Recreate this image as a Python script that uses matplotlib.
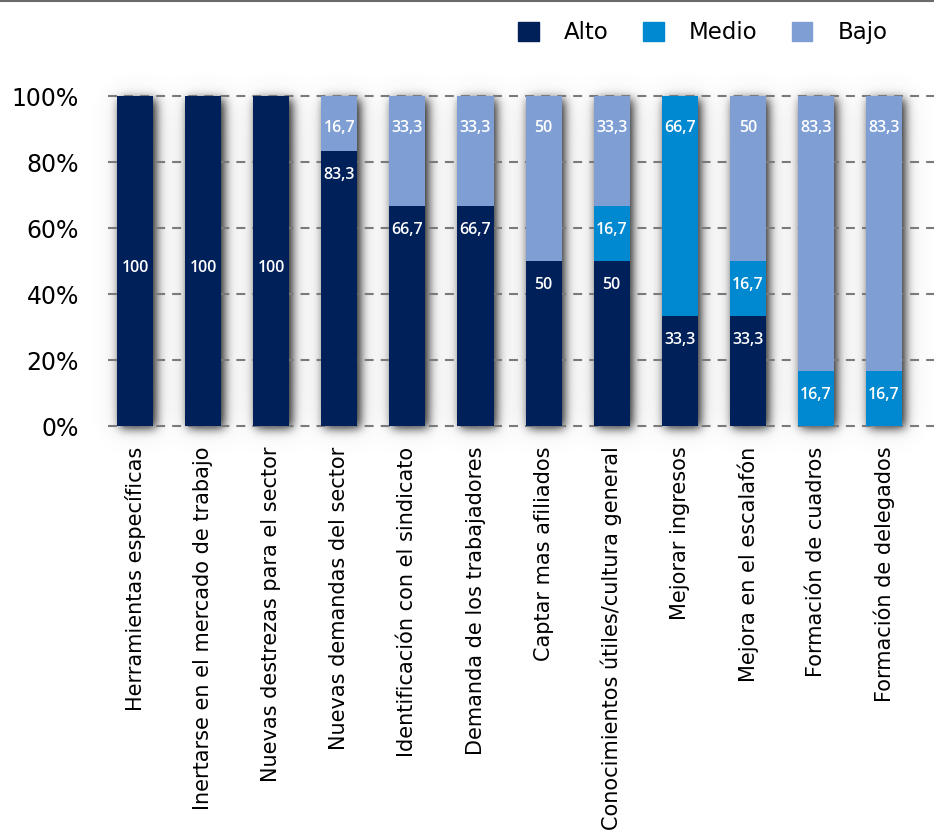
import numpy as np
import matplotlib
matplotlib.use("Agg")
import matplotlib.pyplot as plt
from matplotlib.patches import Patch
from matplotlib.lines import Line2D

categorias = [
    "Herramientas específicas",
    "Inertarse en el mercado de trabajo",
    "Nuevas destrezas para el sector",
    "Nuevas demandas del sector",
    "Identificación con el sindicato",
    "Demanda de los trabajadores",
    "Captar mas afiliados",
    "Conocimientos útiles/cultura general",
    "Mejorar ingresos",
    "Mejora en el escalafón",
    "Formación de cuadros",
    "Formación de delegados",
]
alto = [100, 100, 100, 83.3, 66.7, 66.7, 50, 50, 33.3, 33.3, 0, 0]
medio = [0, 0, 0, 0, 0, 0, 0, 16.7, 66.7, 16.7, 16.7, 16.7]
bajo = [0, 0, 0, 16.7, 33.3, 33.3, 50, 33.3, 0, 50, 83.3, 83.3]
series = [("Alto", alto, "#00205a"), ("Medio", medio, "#0089d0"), ("Bajo", bajo, "#7f9fd4")]
yticks = [0, 20, 40, 60, 80, 100]

plt.rcParams["font.family"] = ["DejaVu Sans"]

W, H, DPI = 934, 834, 100
fig = plt.figure(figsize=(W / DPI, H / DPI), dpi=DPI)

# axes placement in pixels
ax_l, ax_r = 108, 934
y0_px, y100_px = 426, 96
ymin, ymax = -2, 102
ppu_y = (y0_px - y100_px) / 100.0
bot_px = y0_px + (0 - ymin) * ppu_y
top_px = y100_px - (ymax - 100) * ppu_y
ax = fig.add_axes([ax_l / W, 1 - bot_px / H, (ax_r - ax_l) / W, (bot_px - top_px) / H])

x = np.arange(len(categorias))
bar_w = 0.53
step_px = 68.1
ax.set_xlim(-(135 - ax_l) / step_px, (ax_r - 135) / step_px)
ax.set_ylim(ymin, ymax)

# soft drop shadow behind the bars
totals = np.array(alto) + np.array(medio) + np.array(bajo)
gx0, gx1 = -0.9, 12.1
gy0, gy1 = -15, 115
nx = int((gx1 - gx0) * step_px)
ny = int((gy1 - gy0) * ppu_y)
gx = np.linspace(gx0, gx1, nx)
gy = np.linspace(gy0, gy1, ny)
mask = np.zeros((ny, nx))
dx, dy = 2 / step_px, -3 / ppu_y
for xi, t in zip(x, totals):
    cx = (gx >= xi - bar_w / 2 + dx) & (gx <= xi + bar_w / 2 + dx)
    cy = (gy >= 0 + dy) & (gy <= t + dy)
    mask[np.ix_(cy, cx)] = 1.0


def blur(a, sigma):
    r = int(sigma * 3)
    k = np.exp(-0.5 * (np.arange(-r, r + 1) / sigma) ** 2)
    k /= k.sum()
    a = np.apply_along_axis(lambda row: np.convolve(row, k, mode="same"), 1, a)
    a = np.apply_along_axis(lambda col: np.convolve(col, k, mode="same"), 0, a)
    return a


shade = 1.15 * blur(mask, 5) + 0.2 * blur(mask, 15)
rgba = np.zeros((ny, nx, 4))
rgba[..., :3] = 0.3
rgba[..., 3] = np.clip(shade, 0, 1)
ax.imshow(rgba, extent=(gx0, gx1, gy0, gy1), origin="lower", aspect="auto",
          interpolation="bilinear", zorder=0, clip_on=False)

# dashed grid
for yt in yticks:
    ax.axhline(yt, color="#7a7a7a", lw=1.5, ls=(0, (4.3, 3.4)), zorder=1, clip_on=False)

bottom = np.zeros(len(x))
for name, vals, col in series:
    vals = np.array(vals, dtype=float)
    ax.bar(x, vals, bar_w, bottom=bottom, color=col, zorder=2, label=name)
    for xi, b, v in zip(x, bottom, vals):
        if v <= 0:
            continue
        top = b + v
        txt = f"{v:g}".replace(".", ",")
        kw = dict(ha="center", va="center", color="white", fontsize=11.5,
                  family=["Open Sans", "DejaVu Sans"], fontweight="semibold", zorder=3)
        if b == 0 and top >= 100:
            ax.text(xi, b + v / 2 - 2, txt, **kw)
        else:
            off = -23 if top >= 100 else -17
            ax.annotate(txt, (xi, top), xytext=(0, off), textcoords="offset points", **kw)
    bottom += vals

ax.set_yticks(yticks)
ax.set_yticklabels([f"{t}%" for t in yticks], fontsize=17)
ax.set_xticks(x)
ax.set_xticklabels(categorias, rotation=90, fontsize=15, va="top", ha="center")
ax.tick_params(length=0)
ax.tick_params(axis="y", pad=21)
ax.tick_params(axis="x", pad=10)
for s in ax.spines.values():
    s.set_visible(False)

handles = [Patch(color=c, label=n) for n, _, c in series]
fig.legend(handles=handles, loc="upper right", bbox_to_anchor=(899 / W, 1 - 10 / H),
           ncol=3, frameon=False, fontsize=16.5, handlelength=0.9, handleheight=0.9,
           handletextpad=1.1, columnspacing=1.5, borderpad=0)

fig.add_artist(Line2D([0, 1], [1 - 1 / H, 1 - 1 / H], color="#6b6b6b", lw=1.5,
                      transform=fig.transFigure))

fig.savefig("out.png", dpi=DPI)
